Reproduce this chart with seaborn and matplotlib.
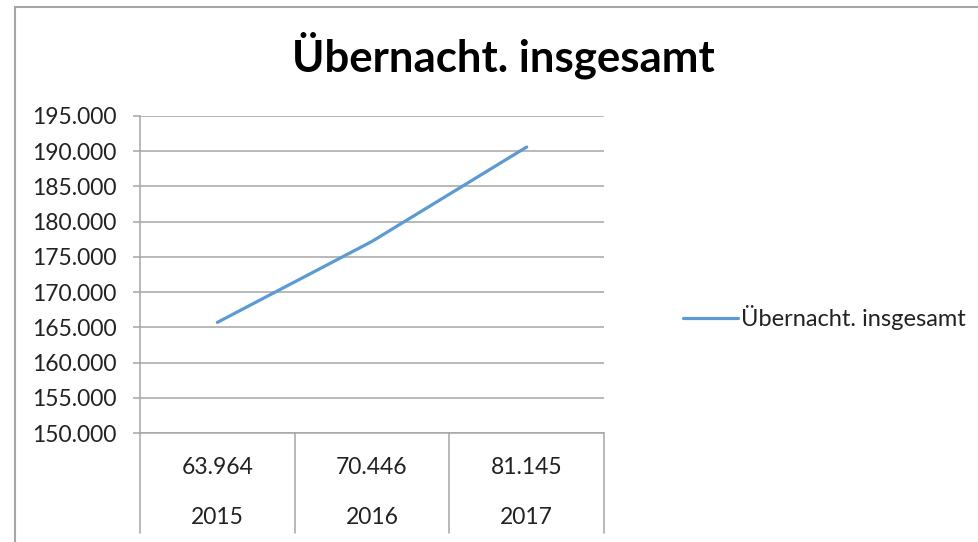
import pandas as pd
import numpy as np
import matplotlib.pyplot as plt
import matplotlib.transforms as mtransforms
from matplotlib.patches import Rectangle
import seaborn as sns

# data
years = ["2015", "2016", "2017"]
arrivals = ["63.964", "70.446", "81.145"]
overnights = [165700, 177200, 190600]
series_name = "Übernacht. insgesamt"
y_ticks = [150000, 155000, 160000, 165000, 170000, 175000, 180000, 185000, 190000, 195000]

sns.set_style("white")
plt.rcParams['font.family'] = ['Lato', 'DejaVu Sans']

df = pd.DataFrame({"pos": np.arange(len(years)), "value": overnights, "series": series_name})

fig = plt.figure(figsize=(9.79, 5.42), dpi=100)
ax = fig.add_axes([140 / 979, 1 - 433 / 542, 464 / 979, 317 / 542])

sns.lineplot(data=df, x="pos", y="value", ax=ax, color="#5b9bd5", linewidth=2.3,
             label=series_name)

grid_c = "#a6a6a6"
txt_c = "#222222"
fs = 16.5
ax.set_xlim(-0.5, len(years) - 0.5)
ax.set_ylim(y_ticks[0], y_ticks[-1])
ax.set_yticks(y_ticks)
ax.set_yticklabels([f"{v:,.0f}".replace(",", ".") for v in y_ticks], fontsize=fs, color=txt_c)
ax.yaxis.grid(True, color=grid_c, linewidth=1.1)
ax.tick_params(axis="y", length=5, color=grid_c, width=1.1, pad=12, left=True)
ax.set_xticks([])
ax.set_xlabel("")
ax.set_ylabel("")
for s in ["top", "right"]:
    ax.spines[s].set_visible(False)
for s in ["left", "bottom"]:
    ax.spines[s].set_color(grid_c)
    ax.spines[s].set_linewidth(1.1)

# two-level category labels below the axis, like the Excel chart
trans = mtransforms.blended_transform_factory(ax.transData, ax.transAxes)
for i in range(len(years)):
    ax.text(i, -0.11, arrivals[i], transform=trans, ha="center", va="center",
            fontsize=fs, color=txt_c)
    ax.text(i, -0.265, years[i], transform=trans, ha="center", va="center",
            fontsize=fs, color=txt_c)
for b in np.arange(len(years) + 1) - 0.5:
    ax.plot([b, b], [0, -0.315], transform=trans, color=grid_c, linewidth=1.1, clip_on=False)

fig.suptitle(series_name, x=503 / 979, y=1 - 55 / 542, va="center",
             fontsize=31.5, fontweight="bold", color="black")

leg = ax.legend(loc="center left", bbox_to_anchor=(1.125, 0.365), frameon=False,
                fontsize=17, handlelength=2.3, handletextpad=0.15)
for t in leg.get_texts():
    t.set_color(txt_c)

# outer chart frame
fig.patches.append(Rectangle((15 / 979, -0.1), 1.2, 1 - 7 / 542 + 0.1, transform=fig.transFigure,
                             fill=False, edgecolor="#a6a6a6", linewidth=1.5))

fig.savefig("out.png", dpi=100)
